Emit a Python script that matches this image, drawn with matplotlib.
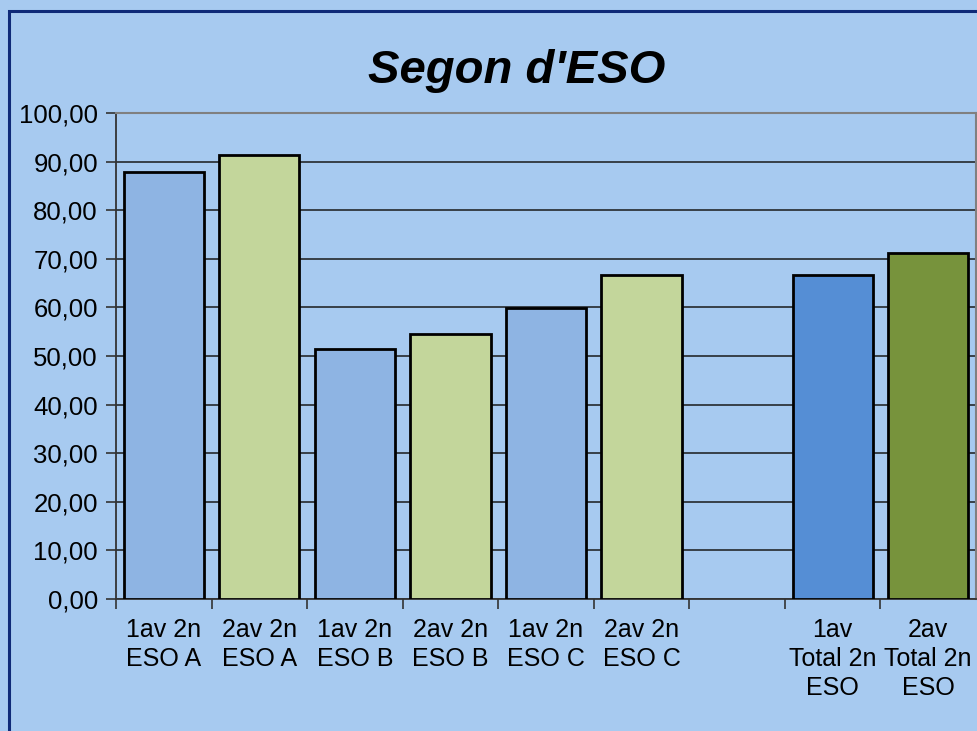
import matplotlib
matplotlib.use("Agg")
import matplotlib.pyplot as plt
from matplotlib.patches import Rectangle
from matplotlib.ticker import FuncFormatter, FixedLocator

categories = [
    "1av 2n\nESO A", "2av 2n\nESO A",
    "1av 2n\nESO B", "2av 2n\nESO B",
    "1av 2n\nESO C", "2av 2n\nESO C",
    "",
    "1av\nTotal 2n\nESO", "2av\nTotal 2n\nESO",
]
values = [87.8, 91.3, 51.4, 54.6, 59.9, 66.7, None, 66.7, 71.2]
colors = ["#8EB4E3", "#C3D69B", "#8EB4E3", "#C3D69B", "#8EB4E3", "#C3D69B",
          "#8EB4E3", "#558ED5", "#77933C"]
y_ticks = [0, 10, 20, 30, 40, 50, 60, 70, 80, 90, 100]

bg = "#A7CAF0"
plt.rcParams["font.family"] = ["Liberation Sans", "DejaVu Sans"]

W, H = 977, 731
fig = plt.figure(figsize=(W / 100, H / 100), dpi=100, facecolor=bg)
fig.patches.append(Rectangle((9 / W, -0.1), 1.2, 1 - 11 / H + 0.1,
                             transform=fig.transFigure, fill=False,
                             edgecolor="#0F2A78", linewidth=2.2))

left, right, top, bottom = 116, 976, 113, 599
ax = fig.add_axes([left / W, 1 - bottom / H, (right - left) / W, (bottom - top) / H])
ax.set_facecolor(bg)

xs = list(range(len(categories)))
for x, v, c in zip(xs, values, colors):
    if v is None:
        continue
    ax.bar(x, v, width=0.84, color=c, edgecolor="black", linewidth=2.0, zorder=3)

ax.set_xlim(-0.5, len(categories) - 0.5)
ax.set_ylim(0, 100)
ax.yaxis.set_major_locator(FixedLocator(y_ticks))
ax.yaxis.set_major_formatter(FuncFormatter(lambda v, p: f"{v:.2f}".replace(".", ",")))
ax.grid(axis="y", color="#1A1A1A", linewidth=1.1, zorder=1)
ax.set_axisbelow(True)

ax.set_xticks([x + 0.5 for x in xs[:-1]] + [-0.5], minor=False)
ax.set_xticklabels([])
ax.set_xticks(xs, minor=True)
ax.set_xticklabels(categories, minor=True, fontsize=18, linespacing=1.25)
ax.tick_params(axis="x", which="minor", length=0, pad=14)
ax.tick_params(axis="x", which="major", length=7, width=1.2, color="#333333")
ax.tick_params(axis="y", length=7, width=1.2, color="#333333", labelsize=18.5, pad=6)

for s in ["top", "right"]:
    ax.spines[s].set_color("#808080")
    ax.spines[s].set_linewidth(1.5)
for s in ["left", "bottom"]:
    ax.spines[s].set_color("#333333")
    ax.spines[s].set_linewidth(1.3)

fig.text(517 / W, 1 - 71 / H, "Segon d'ESO", ha="center", va="center",
         fontsize=34, fontweight="bold", fontstyle="italic")

fig.savefig("out.png", dpi=100, facecolor=bg)
